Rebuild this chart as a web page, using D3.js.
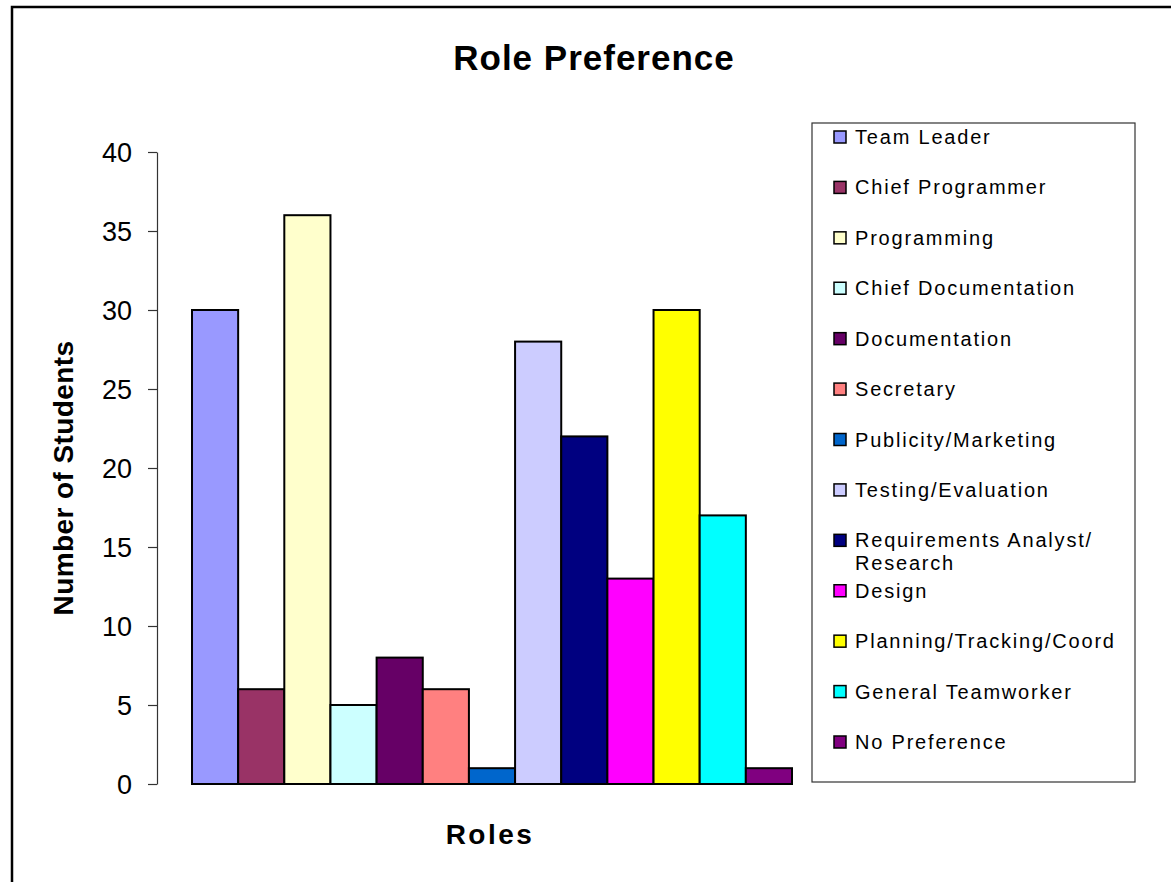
<!DOCTYPE html>
<html>
<head>
<meta charset="utf-8">
<script src="https://cdn.jsdelivr.net/npm/d3@7"></script>
<style>
  html, body { margin: 0; padding: 0; background: #fff; }
  svg { display: block; font-family: "Liberation Sans", Arial, sans-serif; }
</style>
</head>
<body>
<svg id="chart" width="1171" height="882"></svg>
<script>
const categories = [
  "Team Leader", "Chief Programmer", "Programming", "Chief Documentation",
  "Documentation", "Secretary", "Publicity/Marketing", "Testing/Evaluation",
  "Requirements Analyst/\nResearch", "Design", "Planning/Tracking/Coord",
  "General Teamworker", "No Preference"
];
const values = [30, 6, 36, 5, 8, 6, 1, 28, 22, 13, 30, 17, 1];
const yTicks = [0, 5, 10, 15, 20, 25, 30, 35, 40];
const palette = [
  "#9999FF", "#993366", "#FFFFCC", "#CCFFFF", "#660066", "#FF8080", "#0066CC",
  "#CCCCFF", "#000080", "#FF00FF", "#FFFF00", "#00FFFF", "#800080"
];
const titleText = "Role Preference";
const yTitle = "Number of Students";
const xTitle = "Roles";

const svg = d3.select("#chart");

// outer frame
svg.append("rect")
  .attr("x", 12).attr("y", 7).attr("width", 1200).attr("height", 920)
  .attr("fill", "none").attr("stroke", "#000").attr("stroke-width", 2.5);

const y = d3.scaleLinear().domain([0, 40]).range([784, 152]);
const x = d3.scaleBand().domain(categories).range([192, 792]).padding(0);
const color = d3.scaleOrdinal().domain(categories).range(palette);

// title
svg.append("text")
  .attr("x", 594).attr("y", 70)
  .attr("text-anchor", "middle")
  .attr("font-size", 35).attr("font-weight", "bold")
  .attr("letter-spacing", 1)
  .text(titleText);

// y axis
const yAxis = d3.axisLeft(y).tickValues(yTicks).tickSize(9).tickSizeOuter(0).tickPadding(16);
const gy = svg.append("g").attr("transform", "translate(157,0)").call(yAxis);
gy.select(".domain").attr("stroke", "#333").attr("stroke-width", 1.2);
gy.selectAll(".tick line").attr("stroke", "#333").attr("stroke-width", 1.2);
gy.selectAll(".tick text")
  .attr("font-family", "Liberation Sans, Arial, sans-serif")
  .attr("font-size", 27).attr("fill", "#000")
  .attr("dy", "0.36em");

// bars
svg.append("g").selectAll("rect")
  .data(categories)
  .join("rect")
  .attr("x", d => x(d))
  .attr("y", (d, i) => y(values[i]))
  .attr("width", x.bandwidth())
  .attr("height", (d, i) => y(0) - y(values[i]))
  .attr("fill", d => color(d))
  .attr("stroke", "#000")
  .attr("stroke-width", 2);

// axis titles
svg.append("text")
  .attr("transform", "translate(73,478) rotate(-90)")
  .attr("text-anchor", "middle")
  .attr("font-size", 28).attr("font-weight", "bold")
  .attr("letter-spacing", 0.4)
  .text(yTitle);

svg.append("text")
  .attr("x", 490).attr("y", 844)
  .attr("text-anchor", "middle")
  .attr("font-size", 28).attr("font-weight", "bold")
  .attr("letter-spacing", 2.5)
  .text(xTitle);

// legend
const lg = svg.append("g");
lg.append("rect")
  .attr("x", 812).attr("y", 123).attr("width", 323).attr("height", 659)
  .attr("fill", "#fff").attr("stroke", "#333").attr("stroke-width", 1.2);

const rowY = d3.scaleLinear().domain([0, categories.length - 1]).range([137, 742]);
const items = lg.selectAll("g.item")
  .data(categories)
  .join("g")
  .attr("class", "item")
  .attr("transform", (d, i) => `translate(0,${rowY(i)})`);

items.append("rect")
  .attr("x", 834).attr("y", -6).attr("width", 12).attr("height", 12)
  .attr("fill", d => color(d))
  .attr("stroke", "#000").attr("stroke-width", 1.5);

items.append("text")
  .attr("x", 855).attr("y", 7)
  .attr("font-size", 20)
  .attr("letter-spacing", 1.8)
  .attr("fill", "#000")
  .each(function(d) {
    const lines = d.split("\n");
    d3.select(this).selectAll("tspan")
      .data(lines)
      .join("tspan")
      .attr("x", 855)
      .attr("dy", (l, j) => j === 0 ? 0 : 23)
      .text(l => l);
  });
</script>
</body>
</html>
